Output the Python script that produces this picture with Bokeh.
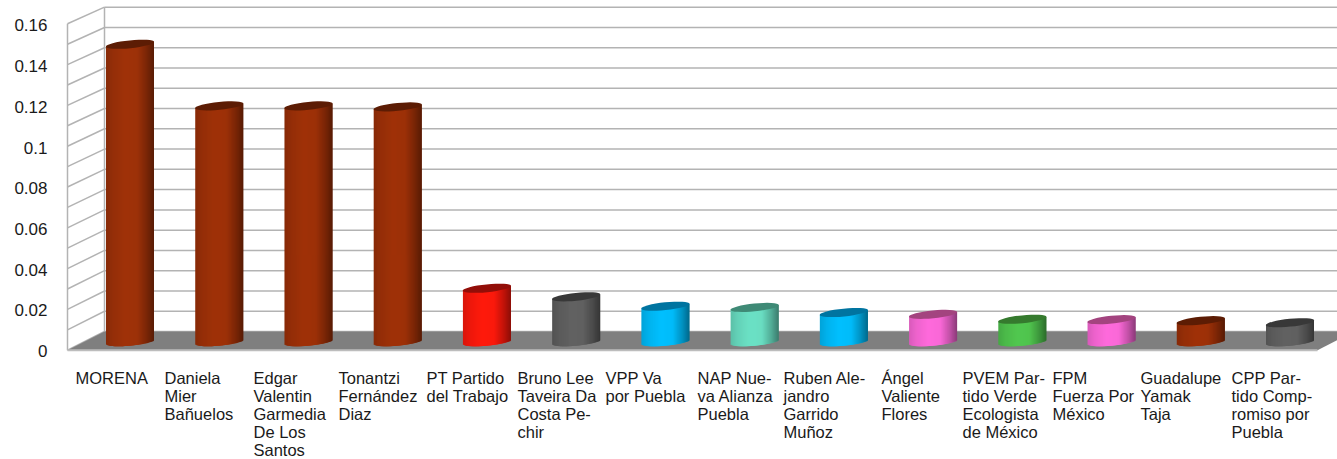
import numpy as np
from bokeh.plotting import figure
from bokeh.models import FixedTicker, NumeralTickFormatter, ColumnDataSource, LinearAxis, Range1d
from bokeh.core.properties import value
from bokeh.embed import file_html
from bokeh.resources import INLINE

categories = ["MORENA", "Daniela\nMier\nBañuelos", "Edgar\nValentin\nGarmedia\nDe Los\nSantos",
              "Tonantzi\nFernández\nDiaz", "PT Partido\ndel Trabajo", "Bruno Lee\nTaveira Da\nCosta Pe-\nchir",
              "VPP Va\npor Puebla", "NAP Nue-\nva Alianza\nPuebla", "Ruben Ale-\njandro\nGarrido\nMuñoz",
              "Ángel\nValiente\nFlores", "PVEM Par-\ntido Verde\nEcologista\nde México", "FPM\nFuerza Por\nMéxico",
              "Guadalupe\nYamak\nTaja", "CPP Par-\ntido Comp-\nromiso por\nPuebla"]
values = [0.1458, 0.1156, 0.1156, 0.1151, 0.0262, 0.0220, 0.0174, 0.0168, 0.0143, 0.0134, 0.0110, 0.0108, 0.0103, 0.0093]
body_colors = ["#a03209", "#a03209", "#a03209", "#a03209", "#ff1a0d", "#626262", "#00c0ff", "#6ce2c6", "#00c0ff",
               "#ff6bdc", "#52c850", "#ff6bdc", "#a03209", "#626262"]
top_colors = ["#5c1c04", "#5c1c04", "#5c1c04", "#5c1c04", "#920e08", "#383838", "#0074a0", "#3f8a76", "#0074a0",
              "#a3447f", "#357a2e", "#a3447f", "#5c1c04", "#383838"]
label_left_px = [75, 164, 253, 338, 426, 517, 605, 697, 783, 881, 962, 1052, 1140, 1231]
y_ticks = [0, 0.02, 0.04, 0.06, 0.08, 0.1, 0.12, 0.14, 0.16]

W, H = 1337, 459
X0, DX = 129.5, 89.23     # pixel of first bar centre, pixels per category
Y0, KY = 349.7, 2040.0    # pixel of value 0, pixels per unit
Y0L, KL = 350.5, 2035.0   # tick label placement
FL = 60
xd = lambda px: (px - X0) / DX
yd = lambda px: (Y0 - px) / KY

p = figure(width=W, height=H, output_backend="svg", toolbar_location=None,
           x_range=(xd(FL), xd(W)), y_range=(yd(H), yd(0)), y_axis_location=None,
           min_border_left=FL, min_border_right=0, min_border_top=0, min_border_bottom=0,
           outline_line_color=None, background_fill_color="white", border_fill_color="white")
p.xaxis.visible = False
p.grid.visible = False

p.extra_y_ranges["labels"] = Range1d((Y0L - H) / KL, Y0L / KL)
ax = LinearAxis(y_range_name="labels")
ax.ticker = FixedTicker(ticks=y_ticks)
ax.formatter = NumeralTickFormatter(format="0.[00]")
ax.axis_line_color = None
ax.major_tick_line_color = None
ax.minor_tick_line_color = None
ax.major_label_standoff = 7
ax.major_label_text_font = "Liberation Sans"
ax.major_label_text_font_size = "17px"
ax.major_label_text_color = "#1a1a1a"
p.add_layout(ax, "left")

# walls
GRID = "#b3b3b3"
FRONT_L, BACK_L, FRONT_R, BACK_R = 67, 104, 1317, 1354
BACK_0 = 331.0
BACK_K = 2027.0
steps = [k * 0.01 for k in range(17)]
back_y = [yd(BACK_0 - v * BACK_K) for v in steps]
p.multi_line([[xd(BACK_L), xd(BACK_R)] for _ in steps], [[b, b] for b in back_y], line_color=GRID, line_width=1.5)
p.multi_line([[xd(FRONT_L), xd(BACK_L)] for _ in steps], [[v, b] for v, b in zip(steps, back_y)], line_color=GRID, line_width=1.5)
p.line([xd(BACK_L), xd(BACK_L)], [back_y[0], back_y[-1]], line_color=GRID, line_width=1.5)
p.line([xd(FRONT_L), xd(FRONT_L)], [0, 0.16], line_color=GRID, line_width=1.5)
# floor
p.patch([xd(FRONT_L), xd(BACK_L), xd(BACK_R), xd(FRONT_R)], [0, back_y[0], back_y[0], 0],
        fill_color="#7f7f7f", line_color=None)
p.line([xd(FRONT_L), xd(FRONT_R)], [0, 0], line_color="#bdbdbd", line_width=2)


def shade(c, f):
    r, g, b = (int(c[i:i + 2], 16) for i in (1, 3, 5))
    return "#%02x%02x%02x" % (int(r * f), int(g * f), int(b * f))


A, B, SL = 24.0, 3.9, 0.1
BASE = 8.5  # pixels from the zero line up to the middle of a bar's foot
L, R, T, Bm, C = [], [], [], [], []
ex, ey, ew, et = [], [], [], []
for i, (v, bc, tc) in enumerate(zip(values, body_colors, top_colors)):
    cx = X0 + DX * i
    for off in np.arange(-A, A, 1.0):
        m = off + 0.5
        t = (m + A) / (2 * A)
        f = float(np.interp(t, [0, 0.15, 0.4, 0.65, 0.85, 1.0], [0.85, 0.93, 1.0, 0.98, 0.76, 0.55]))
        L.append(xd(cx + off))
        R.append(xd(cx + min(off + 2.5, A)))
        T.append(v + BASE / KY + SL * m / KY)
        Bm.append(BASE / KY + (SL * m - B * np.sqrt(max(0, 1 - (m / A) ** 2))) / KY)
        C.append(shade(bc, f))
    ex.append(i)
    ey.append(v + BASE / KY)
    et.append(tc)
p.quad(left="l", right="r", top="t", bottom="b", fill_color="c", line_color=None,
       source=ColumnDataSource(dict(l=L, r=R, t=T, b=Bm, c=C)))
p.ellipse(x="x", y="y", width=2 * A + 0.5, height=2 * B, angle=np.arctan(SL), width_units="screen", height_units="screen",
          fill_color="c", line_color=None, source=ColumnDataSource(dict(x=ex, y=ey, c=et)))

p.text(x=[xd(px) for px in label_left_px], y=[yd(368)] * len(categories), text=categories,
       text_font=value("Liberation Sans"), text_font_size="16.5px", text_color="#1a1a1a",
       text_align="left", text_baseline="top", text_line_height=1.0)

open("out.html", "w").write(file_html(p, INLINE))
